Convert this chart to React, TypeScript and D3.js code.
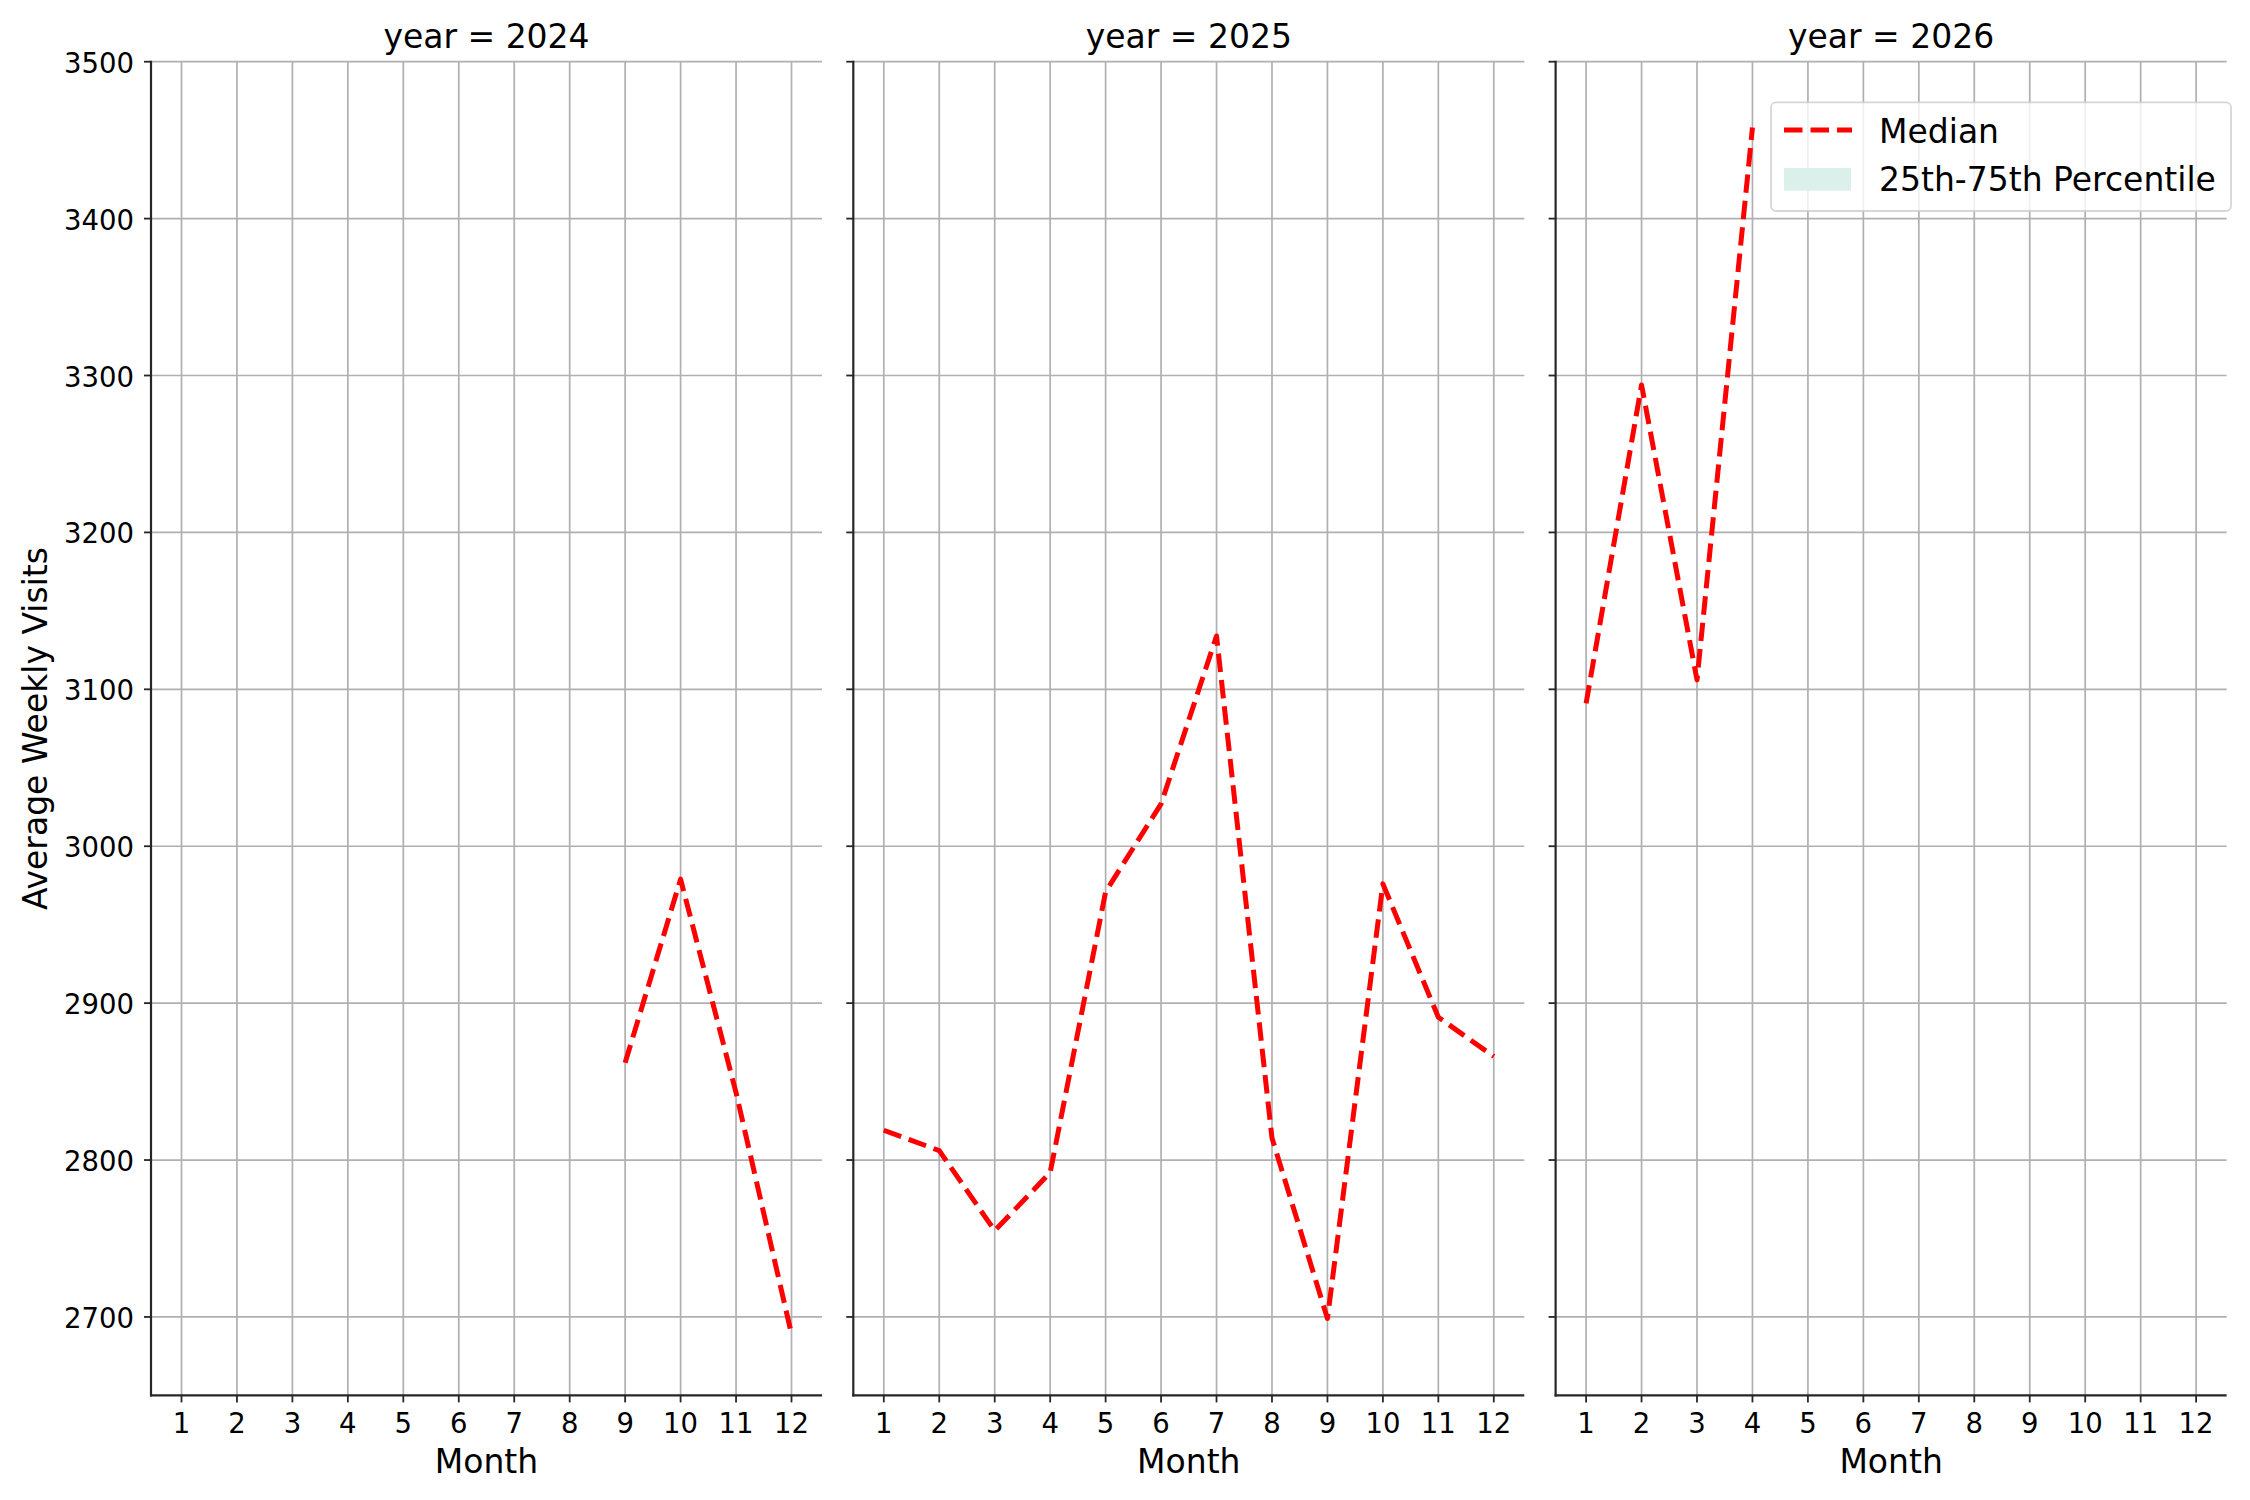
import React from 'react';
import * as d3 from 'd3';

// chart data
const years = [2024, 2025, 2026];
const monthTicks = [1, 2, 3, 4, 5, 6, 7, 8, 9, 10, 11, 12];
const visitTicks = [2700, 2800, 2900, 3000, 3100, 3200, 3300, 3400, 3500];

const months2024 = [9, 10, 11, 12];
const median2024 = [2862, 2979, 2843, 2689];

const months2025 = [1, 2, 3, 4, 5, 6, 7, 8, 9, 10, 11, 12];
const median2025 = [2819, 2806, 2755, 2792, 2971, 3027, 3134, 2814, 2699, 2976, 2891, 2866];

const months2026 = [1, 2, 3, 4];
const median2026 = [3091, 3294, 3106, 3458];

const legendLabels = ['Median', '25th-75th Percentile'];

const seriesByYear = [
  { months: months2024, values: median2024 },
  { months: months2025, values: median2025 },
  { months: months2026, values: median2026 },
];

const W = 2250;
const H = 1500;
const FONT = '"DejaVu Sans", sans-serif';
const top = 61.7;
const bottom = 1395.4;
const panelLeft0 = 151;
const panelStep = 702.3;
const panelWidth = 671;

if (typeof document !== 'undefined') document.body.style.margin = '0';

const yScale = d3.scaleLinear().domain([2650, 3500]).range([bottom, top]);

type PanelProps = { year: number; index: number; months: number[]; values: number[] };

const Panel = ({ year, index, months, values }: PanelProps) => {
  const left = panelLeft0 + index * panelStep;
  const xScale = d3.scaleLinear().domain([0.45, 12.55]).range([left, left + panelWidth]);
  const pts = months.map((m, i) => [m, values[i]] as [number, number]);
  const line = d3.line<[number, number]>()
    .x(d => xScale(d[0]))
    .y(d => yScale(d[1]));

  return (
    <g>
      {/* grid */}
      {monthTicks.map(m => (
        <line key={'gx' + m} x1={xScale(m)} x2={xScale(m)} y1={top} y2={bottom}
          stroke="#b0b0b0" strokeWidth={1.7} />
      ))}
      {visitTicks.map(v => (
        <line key={'gy' + v} x1={left} x2={left + panelWidth} y1={yScale(v)} y2={yScale(v)}
          stroke="#b0b0b0" strokeWidth={1.7} />
      ))}

      {/* median line */}
      <path d={line(pts) || ''} fill="none" stroke="#ff0000" strokeWidth={5}
        strokeDasharray="18.5 8" strokeLinejoin="round" />

      {/* spines */}
      <line x1={left} x2={left} y1={top - 1} y2={bottom + 1} stroke="#262626" strokeWidth={2.2} />
      <line x1={left - 1} x2={left + panelWidth} y1={bottom} y2={bottom} stroke="#262626" strokeWidth={2.2} />

      {/* y ticks */}
      {visitTicks.map(v => (
        <g key={'ty' + v}>
          <line x1={left - 7} x2={left} y1={yScale(v)} y2={yScale(v)} stroke="#262626" strokeWidth={1.8} />
          {index === 0 && (
            <text x={left - 17} y={yScale(v) + 11} textAnchor="end" fontSize={27.5}
              fontFamily={FONT} fill="#000">{v}</text>
          )}
        </g>
      ))}

      {/* x ticks */}
      {monthTicks.map(m => (
        <g key={'tx' + m}>
          <line x1={xScale(m)} x2={xScale(m)} y1={bottom} y2={bottom + 7} stroke="#262626" strokeWidth={1.8} />
          <text x={xScale(m)} y={1432.7} textAnchor="middle" fontSize={27.5}
            fontFamily={FONT} fill="#000">{m}</text>
        </g>
      ))}

      <text x={left + panelWidth / 2} y={1472.7} textAnchor="middle" fontSize={33}
        fontFamily={FONT} fill="#000">Month</text>
      <text x={left + panelWidth / 2} y={47.7} textAnchor="middle" fontSize={33}
        fontFamily={FONT} fill="#000">{`year = ${year}`}</text>
    </g>
  );
};

export default function App() {
  return (
    <svg width={W} height={H} viewBox={`0 0 ${W} ${H}`} style={{ display: 'block', background: '#fff' }}>
      <rect x={0} y={0} width={W} height={H} fill="#fff" />
      {years.map((y, i) => (
        <Panel key={y} year={y} index={i} months={seriesByYear[i].months} values={seriesByYear[i].values} />
      ))}

      <text transform={`translate(47,${(top + bottom) / 2}) rotate(-90)`} textAnchor="middle"
        fontSize={33} fontFamily={FONT} fill="#000">Average Weekly Visits</text>

      {/* legend */}
      <g>
        <rect x={1771} y={102.3} width={460} height={108.7} rx={5} fill="#fff" fillOpacity={0.8}
          stroke="#cccccc" strokeOpacity={0.8} strokeWidth={1.8} />
        <line x1={1784} x2={1852} y1={130} y2={130} stroke="#ff0000" strokeWidth={5} strokeDasharray="18.5 8" />
        <rect x={1784} y={168} width={67} height={22.7} fill="#dcf0eb" />
        <text x={1879} y={142.7} fontSize={33} fontFamily={FONT} fill="#000">{legendLabels[0]}</text>
        <text x={1879} y={190.7} fontSize={33} fontFamily={FONT} fill="#000">{legendLabels[1]}</text>
      </g>
    </svg>
  );
}
